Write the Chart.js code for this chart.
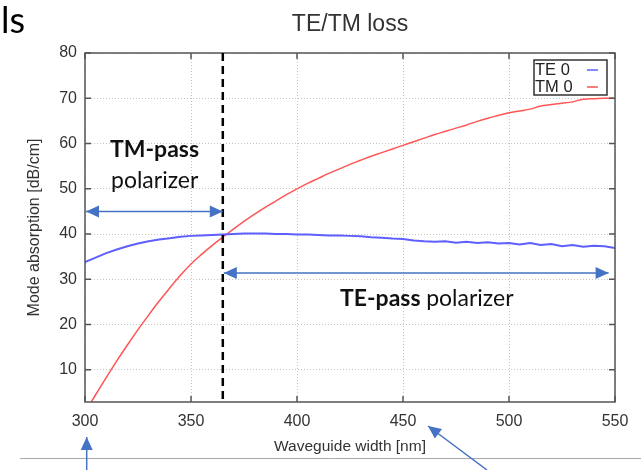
<!DOCTYPE html>
<html>
<head>
<meta charset="utf-8">
<title>TE/TM loss</title>
<script src="https://cdn.jsdelivr.net/npm/chart.js"></script>
<style>
  html, body { margin: 0; padding: 0; background: #fff; }
  #wrap { position: relative; width: 641px; height: 470px; }
</style>
</head>
<body>
<div id="wrap"><canvas id="lossChart" width="641" height="470"></canvas></div>
<script>
// waveguide widths (nm)
const widths = [300, 305, 310, 315, 320, 325, 330, 335, 340, 345,
                350, 355, 360, 365, 370, 375, 380, 385, 390, 395,
                400, 405, 410, 415, 420, 425, 430, 435, 440, 445,
                450, 455, 460, 465, 470, 475, 480, 485, 490, 495,
                500, 505, 510, 515, 520, 525, 530, 535, 540, 545, 550];

// mode absorption (dB/cm)
const te0 = [33.8, 34.8, 35.8, 36.6, 37.3, 37.9, 38.4, 38.8, 39.1, 39.4,
             39.6, 39.7, 39.8, 39.9, 40.0, 40.1, 40.1, 40.1, 40.0, 40.0,
             39.9, 39.9, 39.8, 39.7, 39.7, 39.6, 39.5, 39.3, 39.2, 39.0,
             38.9, 38.6, 38.4, 38.3, 38.4, 38.1, 38.3, 38.0, 38.2, 37.9,
             38.0, 37.7, 38.0, 37.6, 37.8, 37.3, 37.6, 37.2, 37.4, 37.3, 36.9];
const tm0 = [0.5, 4.5, 8.3, 12.0, 15.5, 18.9, 22.1, 25.2, 28.1, 30.9,
             33.4, 35.5, 37.5, 39.3, 41.1, 42.8, 44.4, 45.9, 47.3, 48.7,
             50.0, 51.2, 52.3, 53.4, 54.4, 55.4, 56.3, 57.2, 58.0, 58.8,
             59.6, 60.4, 61.2, 62.0, 62.7, 63.4, 64.1, 64.9, 65.6, 66.2,
             66.8, 67.2, 67.6, 68.3, 68.6, 68.9, 69.2, 69.8, 69.9, 70.0, 70.0];

const xTicks = [300, 350, 400, 450, 500, 550];
const yTicks = [10, 20, 30, 40, 50, 60, 70, 80];

// polarizer regions
const cutoffWidth = 365;
const tmArrowLevel = 45;
const teArrowLevel = 31.4;
const teArrowEnd = 547;

const AXIS_FONT = 'Liberation Sans, Arial, sans-serif';
const NOTE_FONT = 'Lato, "Open Sans", sans-serif';
const ARROW_BLUE = '#4472c4';

function drawArrowHead(ctx, x1, y1, x2, y2, len, half) {
  const a = Math.atan2(y2 - y1, x2 - x1);
  ctx.beginPath();
  ctx.moveTo(x2, y2);
  ctx.lineTo(x2 - len * Math.cos(a) + half * Math.sin(a), y2 - len * Math.sin(a) - half * Math.cos(a));
  ctx.lineTo(x2 - len * Math.cos(a) - half * Math.sin(a), y2 - len * Math.sin(a) + half * Math.cos(a));
  ctx.closePath();
  ctx.fill();
}

function drawArrow(ctx, x1, y1, x2, y2, both) {
  ctx.save();
  ctx.strokeStyle = ARROW_BLUE;
  ctx.fillStyle = ARROW_BLUE;
  ctx.lineWidth = 1.5;
  ctx.beginPath();
  ctx.moveTo(x1, y1);
  ctx.lineTo(x2, y2);
  ctx.stroke();
  drawArrowHead(ctx, x1, y1, x2, y2, 13, 6);
  if (both) drawArrowHead(ctx, x2, y2, x1, y1, 13, 6);
  ctx.restore();
}

// frame, inner ticks, cutoff line and notes
const overlayPlugin = {
  id: 'overlay',
  afterDatasetsDraw(chart) {
    const { ctx, chartArea: a, scales: { x, y } } = chart;
    ctx.save();

    // frame with inward ticks
    ctx.strokeStyle = '#555';
    ctx.lineWidth = 1.5;
    ctx.strokeRect(a.left, a.top, a.right - a.left, a.bottom - a.top);
    ctx.beginPath();
    xTicks.forEach(v => {
      const px = x.getPixelForValue(v);
      ctx.moveTo(px, a.bottom); ctx.lineTo(px, a.bottom - 6);
      ctx.moveTo(px, a.top); ctx.lineTo(px, a.top + 6);
    });
    yTicks.forEach(v => {
      const py = y.getPixelForValue(v);
      ctx.moveTo(a.left, py); ctx.lineTo(a.left + 6, py);
      ctx.moveTo(a.right, py); ctx.lineTo(a.right - 6, py);
    });
    ctx.stroke();

    // dashed cutoff line
    const cx = x.getPixelForValue(cutoffWidth);
    ctx.strokeStyle = '#000';
    ctx.lineWidth = 2.5;
    ctx.setLineDash([8, 5]);
    ctx.beginPath();
    ctx.moveTo(cx, a.top);
    ctx.lineTo(cx, a.bottom);
    ctx.stroke();
    ctx.setLineDash([]);
    ctx.restore();

    // region arrows
    const yTm = y.getPixelForValue(tmArrowLevel);
    drawArrow(ctx, x.getPixelForValue(300) + 1, yTm, cx, yTm, true);
    const yTe = y.getPixelForValue(teArrowLevel);
    drawArrow(ctx, cx + 1, yTe, x.getPixelForValue(teArrowEnd), yTe, true);

    // region labels
    ctx.save();
    ctx.fillStyle = '#111';
    ctx.textBaseline = 'alphabetic';
    ctx.font = 'bold 23px ' + NOTE_FONT;
    ctx.fillText('TM-pass', 110, 157);
    ctx.font = '23px ' + NOTE_FONT;
    ctx.fillText('polarizer', 111, 188);
    ctx.font = 'bold 23px ' + NOTE_FONT;
    ctx.fillText('TE-pass', 340, 306);
    const w = ctx.measureText('TE-pass ').width;
    ctx.font = '23px ' + NOTE_FONT;
    ctx.fillText('polarizer', 340 + w, 306);
    ctx.restore();
  },
  afterDraw(chart) {
    const { ctx, chartArea: a } = chart;
    ctx.save();

    // title
    ctx.fillStyle = '#333';
    ctx.font = '23px ' + AXIS_FONT;
    ctx.textAlign = 'center';
    ctx.textBaseline = 'middle';
    ctx.fillText('TE/TM loss', (a.left + a.right) / 2, 25);

    // legend box
    const lx = 534, ly = 60, lw = 73, lh = 35;
    ctx.fillStyle = '#fff';
    ctx.fillRect(lx, ly, lw, lh);
    ctx.strokeStyle = '#333';
    ctx.lineWidth = 1.5;
    ctx.strokeRect(lx, ly, lw, lh);
    ctx.font = '16.5px ' + AXIS_FONT;
    ctx.textAlign = 'left';
    chart.data.datasets.forEach((ds, i) => {
      const cy = ly + 10 + i * 17;
      ctx.fillStyle = '#222';
      ctx.fillText(ds.label, lx + 1, cy);
      ctx.strokeStyle = ds.borderColor;
      ctx.lineWidth = 1.5;
      ctx.beginPath();
      ctx.moveTo(lx + 53, cy);
      ctx.lineTo(lx + 64, cy);
      ctx.stroke();
    });

    // slide fragments around the figure
    ctx.fillStyle = '#000';
    ctx.font = '36px ' + NOTE_FONT;
    ctx.textBaseline = 'alphabetic';
    ctx.fillText('ls', 1, 33);
    ctx.strokeStyle = '#aaa';
    ctx.lineWidth = 1;
    ctx.beginPath();
    ctx.moveTo(20, 458.5);
    ctx.lineTo(641, 458.5);
    ctx.stroke();
    ctx.restore();

    drawArrow(ctx, 86.7, 470, 86.7, 437, false);
    drawArrow(ctx, 487, 470, 428, 426, false);
  }
};

const ctx = document.getElementById('lossChart').getContext('2d');
new Chart(ctx, {
  type: 'line',
  data: {
    datasets: [
      {
        label: 'TE 0',
        data: widths.map((w, i) => ({ x: w, y: te0[i] })),
        borderColor: 'rgb(95, 95, 255)',
        borderWidth: 2,
        pointRadius: 0,
        tension: 0
      },
      {
        label: 'TM 0',
        data: widths.map((w, i) => ({ x: w, y: tm0[i] })),
        borderColor: 'rgb(255, 85, 85)',
        borderWidth: 1.5,
        pointRadius: 0,
        cubicInterpolationMode: 'monotone'
      }
    ]
  },
  options: {
    responsive: false,
    devicePixelRatio: 1,
    animation: false,
    layout: { padding: { top: 53, right: 26, left: 0, bottom: 0 } },
    plugins: {
      legend: { display: false },
      title: { display: false },
      tooltip: { enabled: false }
    },
    scales: {
      x: {
        type: 'linear',
        min: 300,
        max: 550,
        afterBuildTicks: s => { s.ticks = xTicks.map(v => ({ value: v })); },
        afterFit: s => { s.height = 68; },
        grid: { color: '#c4c4c4', lineWidth: 1, drawTicks: false },
        border: { display: false, dash: [1, 2] },
        ticks: {
          padding: 10,
          autoSkip: false,
          maxRotation: 0,
          color: '#333',
          font: { family: AXIS_FONT, size: 16 }
        },
        title: {
          display: true,
          text: 'Waveguide width [nm]',
          color: '#333',
          font: { family: AXIS_FONT, size: 15.5 },
          padding: { top: 0, bottom: 14 }
        }
      },
      y: {
        type: 'linear',
        min: 2.9,
        max: 80,
        afterBuildTicks: s => { s.ticks = yTicks.map(v => ({ value: v })); },
        afterFit: s => { s.width = 85; },
        grid: { color: '#c4c4c4', lineWidth: 1, drawTicks: false },
        border: { display: false, dash: [1, 2] },
        ticks: {
          padding: 8,
          color: '#333',
          font: { family: AXIS_FONT, size: 16 }
        },
        title: {
          display: true,
          text: 'Mode absorption [dB/cm]',
          color: '#333',
          font: { family: AXIS_FONT, size: 16 },
          padding: { top: 25, bottom: 0 }
        }
      }
    }
  },
  plugins: [overlayPlugin]
});
</script>
</body>
</html>
